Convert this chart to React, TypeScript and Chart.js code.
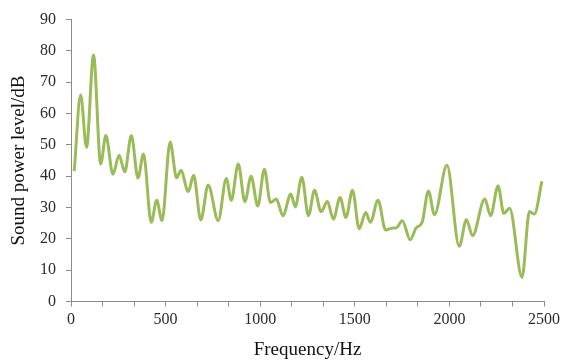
import React, { useEffect, useRef } from "react";
import { Chart, registerables } from "chart.js";

Chart.register(...registerables);

const frequencies = [
  17, 51, 82, 119, 157, 184, 222, 254, 284, 319, 354, 383, 424, 453, 481, 524,
  558, 581, 620, 648, 686, 725, 778, 821, 847, 884, 919, 952, 987, 1022, 1054,
  1085, 1120, 1162, 1185, 1220, 1255, 1287, 1322, 1355, 1387, 1422, 1453, 1488,
  1523, 1558, 1582, 1623, 1663, 1702, 1719, 1751, 1793, 1824, 1856, 1889, 1921,
  1987, 2052, 2090, 2122, 2187, 2218, 2257, 2288, 2318, 2384, 2423, 2449, 2489,
];
const soundPower = [
  41.6, 65.9, 49.2, 78.7, 43.9, 53, 40.6, 46.7, 41.4, 53, 39.4, 47.1, 25.3, 32.3,
  25.8, 50.9, 39.5, 41.8, 35.1, 40.3, 26, 37.2, 25.8, 39.3, 32.3, 43.9, 31.9, 40,
  30.5, 42.2, 31.6, 32.7, 27.4, 34.3, 30.2, 39.7, 27.4, 35.5, 28.7, 31.9, 26.3,
  33.2, 26.8, 35.5, 23.2, 28.4, 25.3, 32.3, 22.8, 23.5, 23.5, 25.8, 19.7, 23.5,
  25.3, 35.3, 27.7, 43.5, 17.6, 26.1, 21, 32.7, 27.4, 36.9, 28.1, 29.8, 7.7, 28.7,
  27.9, 38.4,
];
const xLabelValues = [0, 500, 1000, 1500, 2000, 2500];
const xMinorTickCount = 15;
const yTickValues = [0, 10, 20, 30, 40, 50, 60, 70, 80, 90];

const FONT = "'Liberation Serif', 'Times New Roman', serif";

export default function App() {
  const ref = useRef<HTMLCanvasElement | null>(null);
  useEffect(() => {
    if (!ref.current) return;
    const xMax = xLabelValues[xLabelValues.length - 1];
    const chart = new Chart(ref.current, {
      type: "line",
      data: {
        datasets: [
          {
            data: frequencies.map((f, i) => ({ x: f, y: soundPower[i] })),
            borderColor: "#9bbb59",
            borderWidth: 3,
            pointRadius: 0,
            fill: false,
            cubicInterpolationMode: "monotone",
          },
        ],
      },
      options: {
        animation: false,
        responsive: false,
        maintainAspectRatio: false,
        layout: { padding: { left: 0, top: 17, right: 17, bottom: 0 } },
        plugins: { legend: { display: false }, tooltip: { enabled: false } },
        scales: {
          x: {
            type: "linear",
            min: 0,
            max: xMax,
            afterBuildTicks: (scale: any) => {
              const t = [];
              for (let i = 0; i <= xMinorTickCount; i++) t.push({ value: (i * xMax) / xMinorTickCount });
              scale.ticks = t;
            },
            afterFit: (scale: any) => {
              scale.height = 59.5;
            },
            ticks: {
              autoSkip: false,
              maxRotation: 0,
              color: "#2a2a2a",
              font: { family: FONT, size: 16 },
              padding: 4,
              callback: (v: any) => {
                const n = Number(v);
                const hit = xLabelValues.find((l) => Math.abs(l - n) < 1e-6);
                return hit !== undefined ? String(hit) : "";
              },
            },
            grid: {
              display: true,
              drawOnChartArea: false,
              drawTicks: true,
              tickLength: 5,
              color: "#8c8c8c",
            },
            border: { display: true, color: "#8c8c8c", width: 1 },
            title: {
              display: true,
              text: "Frequency/Hz",
              color: "#111",
              font: { family: FONT, size: 19 },
              padding: { top: 0, bottom: 0 },
            },
          },
          y: {
            min: 0,
            max: 90,
            afterBuildTicks: (scale: any) => {
              scale.ticks = yTickValues.map((v) => ({ value: v }));
            },
            afterFit: (scale: any) => {
              scale.width = 71;
            },
            ticks: {
              color: "#2a2a2a",
              font: { family: FONT, size: 16 },
              padding: 10,
            },
            grid: {
              display: true,
              drawOnChartArea: false,
              drawTicks: true,
              tickLength: 5,
              color: "#8c8c8c",
            },
            border: { display: true, color: "#8c8c8c", width: 1 },
            title: {
              display: true,
              text: "Sound power level/dB",
              color: "#111",
              font: { family: FONT, size: 19 },
              padding: { top: 8, bottom: 0 },
            },
          },
        },
      },
    });
    return () => chart.destroy();
  }, []);
  return (
    <div style={{ position: "fixed", left: 0, top: 0, width: 564, height: 361, background: "#fff" }}>
      <canvas ref={ref} width={564} height={361} style={{ width: 564, height: 361 }} />
    </div>
  );
}
